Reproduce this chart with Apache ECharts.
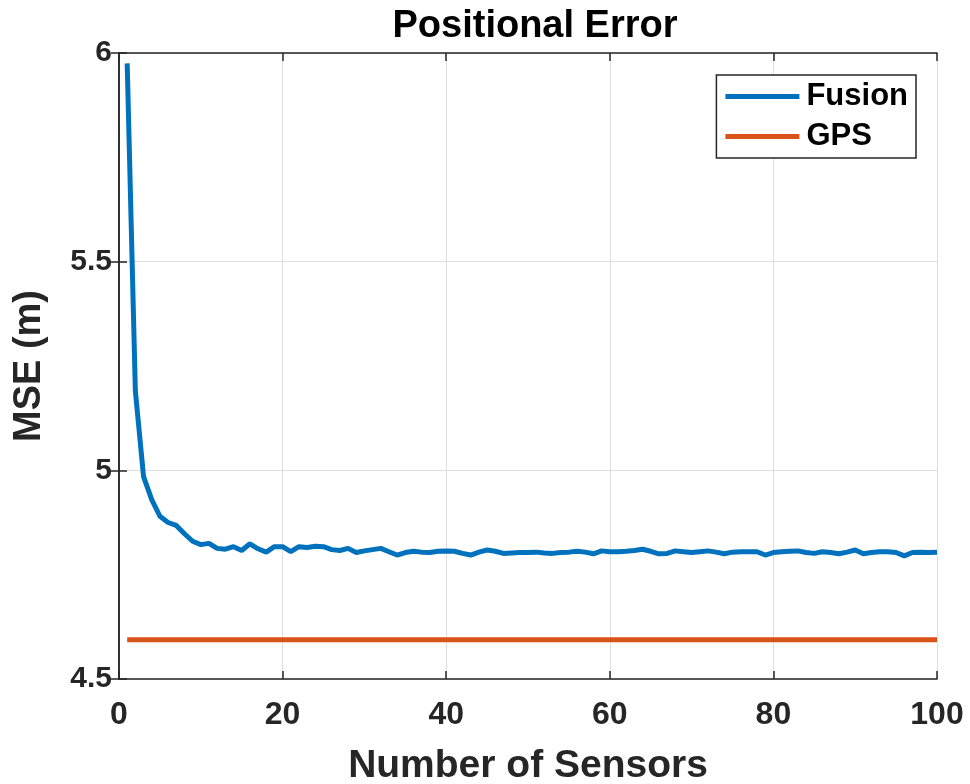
<!DOCTYPE html>
<html>
<head>
<meta charset="utf-8">
<script src="https://cdn.jsdelivr.net/npm/echarts@6/dist/echarts.min.js"></script>
<style>
  html, body { margin: 0; padding: 0; background: #fff; }
  #chart { width: 970px; height: 784px; }
</style>
</head>
<body>
<div id="chart"></div>
<script>
// Number of sensors (x) and mean squared positional error (y)
const sensors = [
  1, 2, 3, 4, 5, 6, 7, 8, 9, 10,
  11, 12, 13, 14, 15, 16, 17, 18, 19, 20,
  21, 22, 23, 24, 25, 26, 27, 28, 29, 30,
  31, 32, 33, 34, 35, 36, 37, 38, 39, 40,
  41, 42, 43, 44, 45, 46, 47, 48, 49, 50,
  51, 52, 53, 54, 55, 56, 57, 58, 59, 60,
  61, 62, 63, 64, 65, 66, 67, 68, 69, 70,
  71, 72, 73, 74, 75, 76, 77, 78, 79, 80,
  81, 82, 83, 84, 85, 86, 87, 88, 89, 90,
  91, 92, 93, 94, 95, 96, 97, 98, 99, 100
];
const fusionMSE = [
  5.975, 5.19, 4.985, 4.93, 4.89, 4.875, 4.868, 4.848, 4.83, 4.822,
  4.825, 4.813, 4.811, 4.817, 4.808, 4.824, 4.812, 4.804, 4.817, 4.817,
  4.805, 4.817, 4.815, 4.818, 4.817, 4.81, 4.808, 4.813, 4.803, 4.807,
  4.81, 4.813, 4.805, 4.797, 4.803, 4.806, 4.804, 4.803, 4.806, 4.807,
  4.806, 4.801, 4.797, 4.804, 4.809, 4.806, 4.801, 4.802, 4.803, 4.803,
  4.804, 4.802, 4.801, 4.803, 4.804, 4.806, 4.804, 4.8, 4.807, 4.805,
  4.805, 4.806, 4.808, 4.811, 4.806, 4.8, 4.801, 4.807, 4.805, 4.803,
  4.805, 4.807, 4.804, 4.8, 4.804, 4.805, 4.805, 4.805, 4.797, 4.803,
  4.805, 4.806, 4.807, 4.803, 4.801, 4.805, 4.803, 4.8, 4.804, 4.809,
  4.8, 4.803, 4.805, 4.805, 4.803, 4.795, 4.803, 4.804, 4.803, 4.804
];
const gpsMSE = 4.594;

const xTicks = [0, 20, 40, 60, 80, 100];
const yTicks = [4.5, 5, 5.5, 6];

const seriesNames = ['Fusion', 'GPS'];
const seriesColors = ['#0072BD', '#D95319'];

const fontFamily = '"Liberation Sans", Arial, Helvetica, sans-serif';

const fusionData = sensors.map((s, i) => [s, fusionMSE[i]]);
const gpsData = sensors.map(s => [s, gpsMSE]);

const chart = echarts.init(document.getElementById('chart'), null, { renderer: 'canvas' });

const baseAxisLine = { show: true, lineStyle: { color: '#262626', width: 1.5 } };
const baseTick = { show: true, inside: true, length: 8, lineStyle: { color: '#262626', width: 1.5 } };

chart.setOption({
  animation: false,
  backgroundColor: '#ffffff',
  title: {
    text: 'Positional Error',
    left: 530,
    top: 3,
    textAlign: 'center',
    textStyle: { fontFamily, fontWeight: 'bold', fontSize: 38, color: '#000' }
  },
  legend: {
    data: seriesNames,
    right: 54,
    top: 75,
    orient: 'vertical',
    itemWidth: 74,
    itemHeight: 5,
    itemGap: 9,
    padding: [6, 8, 6, 9],
    borderColor: '#262626',
    borderWidth: 1.5,
    backgroundColor: '#fff',
    icon: 'rect',
    textStyle: { fontFamily, fontWeight: 'bold', fontSize: 31, color: '#000', padding: [0, 0, 0, 2] }
  },
  grid: { left: 119, right: 33, top: 53, bottom: 105, containLabel: false, outerBoundsMode: 'none' },
  xAxis: [
    {
      type: 'value', min: 0, max: 100, interval: 20, position: 'bottom',
      name: 'Number of Sensors', nameLocation: 'middle', nameGap: 68,
      nameTextStyle: { fontFamily, fontWeight: 'bold', fontSize: 39, color: '#262626' },
      axisLine: baseAxisLine, axisTick: baseTick,
      axisLabel: {
        fontFamily, fontWeight: 'bold', fontSize: 32, color: '#262626', margin: 20,
        formatter: v => (xTicks.includes(v) ? String(v) : '')
      },
      splitLine: { show: true, lineStyle: { color: '#dedede', width: 1 } }
    },
    {
      type: 'value', min: 0, max: 100, interval: 20, position: 'top',
      axisLine: baseAxisLine, axisTick: baseTick, axisLabel: { show: false },
      splitLine: { show: false }
    }
  ],
  yAxis: [
    {
      type: 'value', min: 4.5, max: 6, interval: 0.5, position: 'left',
      name: 'MSE (m)', nameLocation: 'middle', nameGap: 70, nameRotate: 90,
      nameTextStyle: { fontFamily, fontWeight: 'bold', fontSize: 38, color: '#262626' },
      axisLine: baseAxisLine, axisTick: baseTick,
      axisLabel: {
        fontFamily, fontWeight: 'bold', fontSize: 30, color: '#262626', margin: 7,
        formatter: v => (yTicks.includes(v) ? String(v) : '')
      },
      splitLine: { show: true, lineStyle: { color: '#dedede', width: 1 } }
    },
    {
      type: 'value', min: 4.5, max: 6, interval: 0.5, position: 'right',
      axisLine: baseAxisLine, axisTick: baseTick, axisLabel: { show: false },
      splitLine: { show: false }
    }
  ],
  series: [
    {
      name: seriesNames[0], type: 'line', data: fusionData,
      showSymbol: false, symbol: 'none',
      lineStyle: { color: seriesColors[0], width: 5 },
      itemStyle: { color: seriesColors[0] },
      z: 3
    },
    {
      name: seriesNames[1], type: 'line', data: gpsData,
      showSymbol: false, symbol: 'none',
      lineStyle: { color: seriesColors[1], width: 5 },
      itemStyle: { color: seriesColors[1] },
      z: 2
    }
  ]
});
</script>
</body>
</html>
